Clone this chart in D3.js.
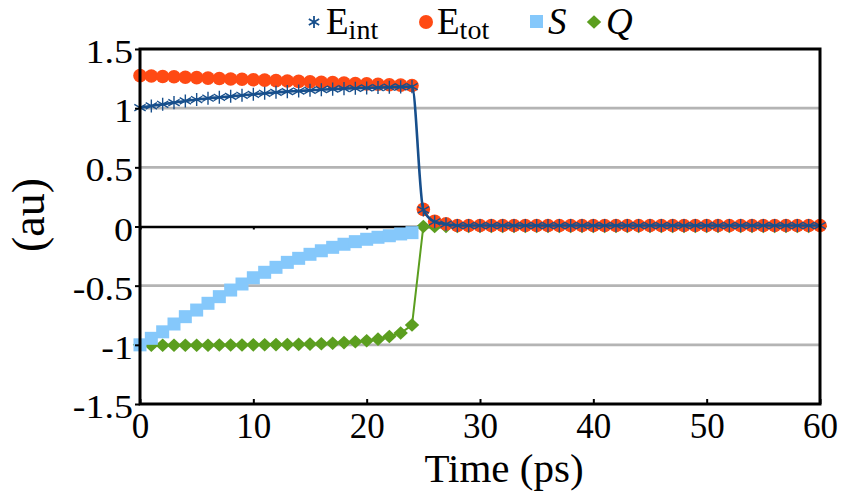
<!DOCTYPE html>
<html>
<head>
<meta charset="utf-8">
<script src="https://cdn.jsdelivr.net/npm/d3@7"></script>
<style>
  html, body { margin: 0; padding: 0; background: #fff; }
  svg { display: block; }
  text { font-family: "Liberation Serif", "DejaVu Serif", serif; fill: #000; }
</style>
</head>
<body>
<svg id="chart" width="843" height="495"></svg>
<script>
// Time axis (ps)
const time = [0,1,2,3,4,5,6,7,8,9,10,11,12,13,14,15,16,17,18,19,20,
  21,22,23,24,25,26,27,28,29,30,31,32,33,34,35,36,37,38,39,40,
  41,42,43,44,45,46,47,48,49,50,51,52,53,54,55,56,57,58,59,60];

// Internal energy
const eInt = [1.004,1.019,1.033,1.047,1.061,1.073,1.084,1.092,1.100,1.109,1.117,
  1.126,1.134,1.140,1.145,1.151,1.156,1.161,1.165,1.168,1.171,1.174,1.177,1.180,1.182,
  0.140,0.040,0.020,0.008,0.008,0.008,0.008,0.008,0.008,0.008,0.008,0.008,0.008,0.008,
  0.008,0.008,0.008,0.008,0.008,0.008,0.008,0.008,0.008,0.008,0.008,0.008,0.008,0.008,
  0.008,0.008,0.008,0.008,0.008,0.008,0.008,0.008];

// Total energy
const eTot = [1.275,1.272,1.268,1.265,1.261,1.258,1.254,1.251,1.247,1.244,1.240,
  1.237,1.233,1.230,1.226,1.223,1.219,1.216,1.212,1.209,1.205,1.202,1.198,1.195,1.191,
  0.145,0.045,0.022,0.008,0.008,0.008,0.008,0.008,0.008,0.008,0.008,0.008,0.008,0.008,
  0.008,0.008,0.008,0.008,0.008,0.008,0.008,0.008,0.008,0.008,0.008,0.008,0.008,0.008,
  0.008,0.008,0.008,0.008,0.008,0.008,0.008,0.008];

// S (defined up to 24 ps)
const sVal = [-1.000,-0.945,-0.890,-0.824,-0.762,-0.706,-0.649,-0.593,-0.537,-0.486,-0.433,
  -0.387,-0.345,-0.303,-0.269,-0.235,-0.205,-0.176,-0.150,-0.128,-0.108,-0.091,-0.078,-0.063,-0.052];

// Q
const qVal = [-1.000,-1.004,-1.004,-1.004,-1.003,-1.003,-1.003,-1.002,-1.002,-1.001,-1.000,
  -0.999,-0.998,-0.997,-0.996,-0.994,-0.991,-0.987,-0.981,-0.974,-0.965,-0.952,-0.930,-0.900,-0.833,
  0,0,0,0,0,0,0,0,0,0,0,0,0,0,0,0,0,0,0,0,0,0,0,0,0,0,0,0,0,0,0,0,0,0,0,0,0,0,0,0,0];

const xTicks = [0,10,20,30,40,50,60];
const yTicks = [-1.5,-1,-0.5,0,0.5,1,1.5];
const yTickLabels = ["-1.5","-1","-0.5","0","0.5","1","1.5"];

const colInt = "#174f8c", colTot = "#ff4a14", colS = "#85c8fb", colQ = "#5b9e1f";

const svg = d3.select("#chart");
const pLeft = 140, pRight = 820, pTop = 49, pBottom = 404;
const x = d3.scaleLinear().domain([0, 60]).range([pLeft, pRight]);
const y = d3.scaleLinear().domain([-1.5, 1.5]).range([pBottom, pTop]);

// Gridlines
svg.append("g").selectAll("line")
  .data(yTicks.filter(v => v !== 0 && Math.abs(v) !== 1.5))
  .join("line")
  .attr("x1", pLeft).attr("x2", pRight)
  .attr("y1", d => y(d)).attr("y2", d => y(d))
  .attr("stroke", "#b4b4b4").attr("stroke-width", 2.6);

// Zero line with small ticks
const zeroAxis = svg.append("g").attr("transform", `translate(0,${y(0)})`)
  .call(d3.axisBottom(x).tickValues(xTicks.slice(1, -1)).tickSize(3).tickFormat(""));
zeroAxis.select(".domain").attr("stroke", "#000").attr("stroke-width", 2.6);
zeroAxis.selectAll(".tick line").attr("stroke", "#000").attr("stroke-width", 2);

// Q series
svg.append("path")
  .datum(time.map((t, i) => [t, qVal[i]]))
  .attr("fill", "none").attr("stroke", colQ).attr("stroke-width", 2)
  .attr("d", d3.line().x(d => x(d[0])).y(d => y(d[1])));
const diamond = "M0,-6.8L7.2,0L0,6.8L-7.2,0Z";
svg.append("g").selectAll("path")
  .data(time.map((t, i) => [t, qVal[i]]))
  .join("path")
  .attr("transform", d => `translate(${x(d[0])},${y(d[1])})`)
  .attr("d", diamond).attr("fill", colQ);

// S series
svg.append("g").selectAll("rect")
  .data(sVal.map((v, i) => [time[i], v]))
  .join("rect")
  .attr("x", d => x(d[0]) - 6.5).attr("y", d => y(d[1]) - 6.5)
  .attr("width", 13).attr("height", 13)
  .attr("fill", colS);

// Total energy markers
svg.append("g").selectAll("circle")
  .data(time.map((t, i) => [t, eTot[i]]))
  .join("circle")
  .attr("cx", d => x(d[0])).attr("cy", d => y(d[1])).attr("r", 6.8)
  .attr("fill", colTot);

// Internal energy line and markers
svg.append("path")
  .datum(time.map((t, i) => [t, eInt[i]]))
  .attr("fill", "none").attr("stroke", colInt).attr("stroke-width", 2.6)
  .attr("d", d3.line().curve(d3.curveMonotoneX).x(d => x(d[0])).y(d => y(d[1])));
const aster = d3.symbol(d3.symbolAsterisk, 120)();
svg.append("g").selectAll("path")
  .data(time.map((t, i) => [t, eInt[i]]))
  .join("path")
  .attr("transform", d => `translate(${x(d[0])},${y(d[1])})`)
  .attr("d", aster).attr("fill", "none").attr("stroke", colInt).attr("stroke-width", 1.4);

// Frame
svg.append("rect")
  .attr("x", pLeft).attr("y", pTop).attr("width", pRight - pLeft).attr("height", pBottom - pTop)
  .attr("fill", "none").attr("stroke", "#000").attr("stroke-width", 3);

// Y axis
const ySx = 1.12;
const yAxis = svg.append("g").attr("transform", `translate(${pLeft},0)`)
  .call(d3.axisLeft(y).tickValues(yTicks).tickSize(5)
    .tickFormat((d, i) => yTickLabels[i]));
yAxis.select(".domain").remove();
yAxis.selectAll(".tick line").attr("stroke", "#000").attr("stroke-width", 2);
yAxis.selectAll(".tick text")
  .attr("font-size", 34).attr("fill", "#000")
  .attr("font-family", "Liberation Serif, serif")
  .attr("dy", "0.4em")
  .attr("transform", `scale(${ySx},1)`)
  .attr("x", -7 / ySx);

// X axis
const xAxis = svg.append("g").attr("transform", `translate(0,${pBottom})`)
  .call(d3.axisBottom(x).tickValues(xTicks).tickSize(-5).tickFormat(d3.format("d")));
xAxis.select(".domain").remove();
xAxis.selectAll(".tick line").attr("stroke", "#000").attr("stroke-width", 2);
xAxis.selectAll(".tick text")
  .attr("font-size", 35).attr("fill", "#000")
  .attr("font-family", "Liberation Serif, serif")
  .attr("y", 34).attr("dy", 0);

// Axis titles
svg.append("text").attr("x", 504).attr("y", 482)
  .attr("text-anchor", "middle").attr("font-size", 41).text("Time (ps)");
svg.append("text")
  .attr("transform", "translate(44,215) rotate(-90)")
  .attr("text-anchor", "middle").attr("font-size", 46).text("(au)");

// Legend
const lg = svg.append("g");
lg.append("path").attr("transform", "translate(314,22)")
  .attr("d", d3.symbol(d3.symbolAsterisk, 100)())
  .attr("fill", "none").attr("stroke", colInt).attr("stroke-width", 1.8);
const t1 = lg.append("text").attr("x", 326).attr("y", 34).attr("font-size", 37);
t1.append("tspan").text("E");
t1.append("tspan").attr("font-size", 28).attr("dy", 5).text("int");

lg.append("circle").attr("cx", 426).attr("cy", 22).attr("r", 7).attr("fill", colTot);
const t2 = lg.append("text").attr("x", 437).attr("y", 34).attr("font-size", 37);
t2.append("tspan").text("E");
t2.append("tspan").attr("font-size", 28).attr("dy", 5).text("tot");

lg.append("rect").attr("x", 530).attr("y", 15).attr("width", 13).attr("height", 13).attr("fill", colS);
lg.append("text").attr("x", 548).attr("y", 34).attr("font-size", 37)
  .attr("font-style", "italic").text("S");

lg.append("path").attr("transform", "translate(594,22)").attr("d", diamond).attr("fill", colQ);
lg.append("text").attr("x", 606).attr("y", 34).attr("font-size", 37)
  .attr("font-style", "italic").text("Q");
</script>
</body>
</html>
